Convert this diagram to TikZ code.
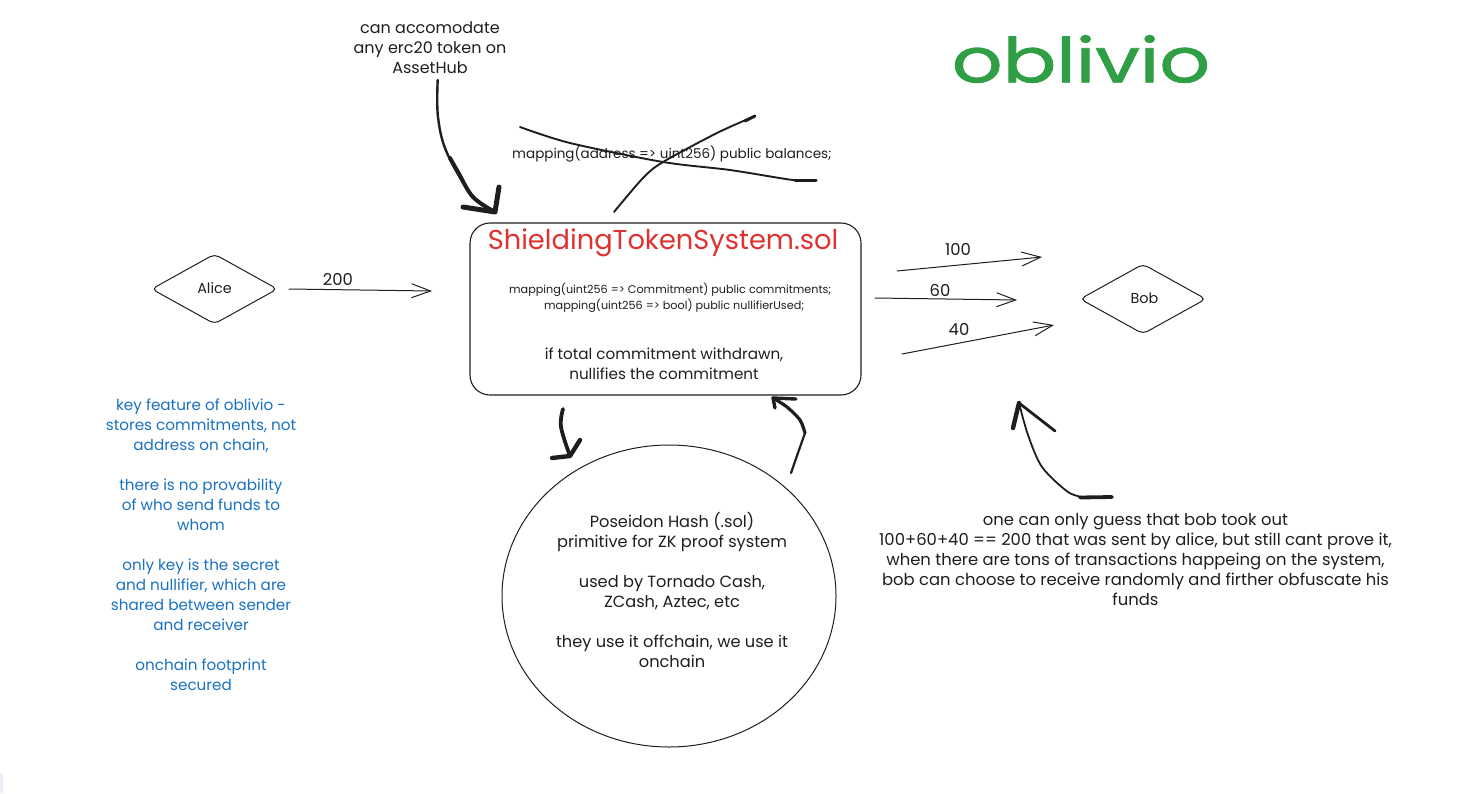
\documentclass[tikz,border=0pt]{standalone}
\usepackage{fontspec}
\setmainfont{Poppins}
\newfontfamily\titlefont[FakeBold=1.2]{Poppins}
\usetikzlibrary{arrows.meta,shapes.geometric}
\definecolor{inkc}{HTML}{1E1E1E}
\definecolor{bluec}{HTML}{1971C2}
\definecolor{redc}{HTML}{E03131}
\definecolor{greenc}{HTML}{2F9E44}
\definecolor{lavc}{HTML}{EDEDF7}
\newcommand{\fs}[2]{\fontsize{#1}{#2}\selectfont}
\tikzset{
  txt/.style={inner sep=0pt,align=center,text=inkc},
  note/.style={txt,font=\fs{16.4}{20}},
  code/.style={txt,font=\fs{11.2}{16}},
  bluenote/.style={txt,text=bluec,font=\fs{15.2}{20}},
  sketchdiamond/.style={diamond,draw=inkc,line width=1pt,rounded corners=5pt,inner sep=0pt,shape aspect=1.78,minimum width=126pt,minimum height=70pt,font=\fs{14.4}{18},text=inkc},
  thin arrow/.style={draw=inkc,line width=1pt,line cap=round,-{Straight Barb[length=19pt,width=14pt,line width=1pt]}},
  thick/.style={draw=inkc,line cap=round,line join=round},
}
\begin{document}
\begin{tikzpicture}[x=1pt,y=-1pt]
\useasboundingbox (0,0) rectangle (1457,793);
\fill[lavc] (0,793) -- (0,772) -- (3,776) -- (3,793) -- cycle;

% main shapes
\node[draw=inkc,line width=1.1pt,rounded corners=20pt,minimum width=391pt,minimum height=172pt,inner sep=0pt] (box) at (665.5,309) {};
\node[ellipse,draw=inkc,line width=1pt,minimum width=334pt,minimum height=302pt,inner sep=0pt] (hash) at (669,596) {};
\node[sketchdiamond] (alice) at (214.5,289) {\raisebox{1.5pt}{Alice}};
\node[sketchdiamond] (bob) at (1143,299) {\hspace*{3pt}\raisebox{2pt}{Bob}};

% text
\node[txt,text=greenc,font=\titlefont\fs{62}{70}] (title) at (1081,59) {\scalebox{1.28}[1]{oblivio}};
\node[txt,text=redc,font=\fs{27.3}{30}] (boxtitle) at (663,243) {ShieldingTokenSystem.sol};
\node[code,align=left,anchor=west] (maps) at (509,297.5) {mapping(uint256 => Commitment) public commitments;\\\hspace*{35pt}mapping(uint256 => bool) public nullifierUsed;};
\node[note,font=\fs{15.2}{20}] (nullnote) at (664,364) {if total commitment withdrawn,\\nullifies the commitment};
\node[note,font=\fs{16}{20}] (topnote) at (430,48) {can accomodate\\any erc20 token on\\AssetHub};
\node[code,font=\fs{13.5}{16}] (balances) at (672,154) {mapping(address => uint256) public balances;};
\node[note,font=\fs{16.2}{20}] (hashnote) at (672,590) {Poseidon Hash (.sol)\\primitive for ZK proof system\\[20pt]used by Tornado Cash,\\ZCash, Aztec, etc\\[20pt]they use it offchain, we use it\\onchain};
\node[note] (bobnote) at (1135.5,559) {one can only guess that bob took out\\100+60+40 == 200 that was sent by alice, but still cant prove it,\\when there are tons of transactions happeing on the system,\\bob can choose to receive randomly and firther obfuscate his\\funds};
\node[bluenote] (bluetext) at (201,545) {key feature of oblivio -\\stores commitments, not\\address on chain,\\[20pt]there is no provability\\of who send funds to\\whom\\[20pt]only key is the secret\\and nullifier, which are\\shared between sender\\and receiver\\[20pt]onchain footprint\\secured};

% arrow labels
\node[note] (l200) at (338,279) {200};
\node[note] (l100) at (958,249) {100};
\node[note] (l60) at (940,290) {60};
\node[note] (l40) at (959,329) {40};

% free ends
\coordinate (a0) at (289,289);  \coordinate (a1) at (432,291);
\coordinate (b0) at (897,271);  \coordinate (b1) at (1042,257);
\coordinate (c0) at (875,298);  \coordinate (c1) at (1017,300);
\coordinate (d0) at (902,354);  \coordinate (d1) at (1054,325);
\draw[thin arrow] (a0) -- (a1);
\draw[thin arrow] (b0) -- (b1);
\draw[thin arrow] (c0) -- (c1);
\draw[thin arrow] (d0) -- (d1);

% thick arrow from the top note
\coordinate (t1) at (495,212);
\coordinate (t1a) at (463,207);
\coordinate (t1b) at (499,187);
\draw[thick,line width=2.4pt] plot[smooth,tension=.6] coordinates {(437.7,80) (438,117) (447,153) (473,197) (t1)};
\draw[thick,line width=4pt] plot[smooth,tension=.6] coordinates {(450,158) (458,172) (473,197) (t1)};
\draw[thick,line width=5pt] (t1a) -- (t1) -- (t1b);

% crossing-out strokes
\coordinate (x0) at (520,127); \coordinate (x1) at (816,180);
\coordinate (y0) at (614,212); \coordinate (y1) at (755,116);
\draw[thick,line width=1.9pt] plot[smooth,tension=.5] coordinates {(x0) (570,143) (663,162) (730,170) (793,180) (x1)};
\draw[thick,line width=3pt] (795,180) -- (x1);
\draw[thick,line width=1.9pt] plot[smooth,tension=.5] coordinates {(y0) (643,178) (663,162) (717,133) (y1)};
\draw[thick,line width=3pt] (745,121) -- (y1);

% arrow from box to hash
\coordinate (h0) at (563,409);
\coordinate (h1) at (570,456);
\coordinate (h1a) at (552,458);
\coordinate (h1b) at (580,440);
\draw[thick,line width=3.8pt] plot[smooth,tension=.6] coordinates {(h0) (561,427) (h1)};
\draw[thick,line width=4.4pt] (h1a) -- (h1) -- (h1b);

% arrow from hash to box
\coordinate (u0) at (791,473);
\coordinate (u1) at (773,398);
\coordinate (u1a) at (775,408);
\coordinate (u1b) at (796,399);
\draw[thick,line width=2.2pt] plot[smooth,tension=.5] coordinates {(u0) (799,450) (805,433)};
\draw[thick,line width=3.2pt] plot[smooth,tension=.5] coordinates {(805,433) (800,420) (787,407) (u1)};
\draw[thick,line width=3.4pt] (u1a) -- (u1) -- (u1b);

% arrow from bottom note up
\coordinate (v0) at (1112,497);
\coordinate (v1) at (1019,403);
\coordinate (v1a) at (1013,428);
\coordinate (v1b) at (1055,431);
\draw[thick,line width=1.8pt] plot[smooth,tension=.5] coordinates {(1085,497.5) (1068,492) (1042,467) (1028,435) (v1)};
\draw[thick,line width=3.8pt] (v0) -- (1080,497.5);
\draw[thick,line width=2.8pt] (v1b) -- (v1);
\draw[thick,line width=4.4pt] (v1a) -- (v1);
\end{tikzpicture}
\end{document}
